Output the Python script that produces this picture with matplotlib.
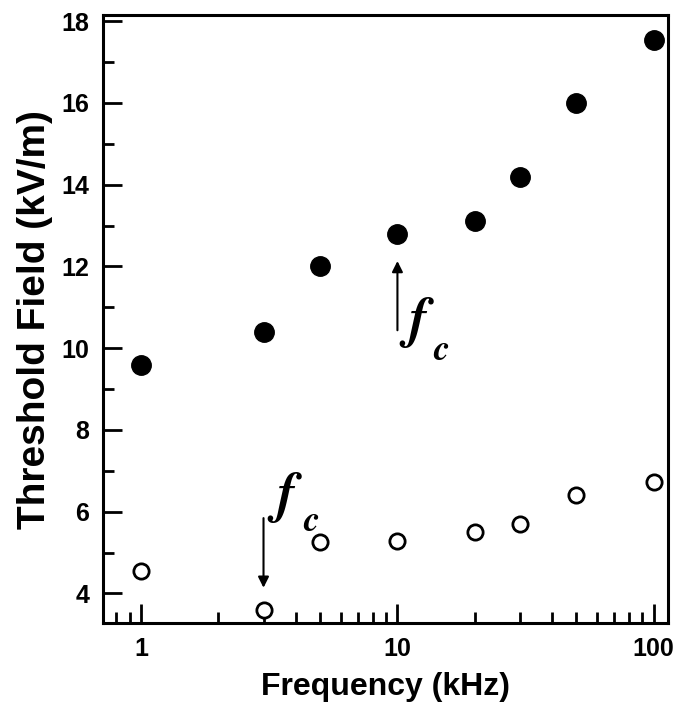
import numpy as np
import matplotlib.pyplot as plt
from matplotlib.ticker import FixedLocator, NullFormatter

# frequency (kHz) and threshold fields (kV/m)
freq = [1, 3, 5, 10, 20, 30, 50, 100]
field_filled = [9.6, 10.4, 12.0, 12.8, 13.1, 14.2, 16.0, 17.55]
field_open = [4.55, 3.6, 5.25, 5.27, 5.5, 5.7, 6.4, 6.72]

x_ticks = [1, 10, 100]
x_ticklabels = ['1', '10', '100']
y_ticks = [4, 6, 8, 10, 12, 14, 16, 18]

plt.rcParams['font.family'] = ['Liberation Sans', 'DejaVu Sans']
plt.rcParams['font.weight'] = 'bold'

fig = plt.figure(figsize=(6.79, 7.18), dpi=100)
ax = fig.add_axes([0.152, 0.132, 0.832, 0.847])

ax.plot(freq, field_filled, 'o', color='k', ms=14, zorder=3)
ax.plot(freq, field_open, 'o', mfc='white', mec='k', mew=2, ms=11, zorder=3)

ax.set_xscale('log')
ax.set_xlim(0.71, 114)
ax.set_ylim(3.27, 18.15)

ax.xaxis.set_major_locator(FixedLocator(x_ticks))
ax.set_xticklabels(x_ticklabels)
ax.xaxis.set_minor_locator(FixedLocator([0.8, 0.9] + [m * d for d in (1, 10) for m in range(2, 10)]))
ax.xaxis.set_minor_formatter(NullFormatter())
ax.set_yticks(y_ticks)
ax.set_yticks(np.arange(5, 18, 2), minor=True)

ax.tick_params(which='both', direction='in', width=2, labelsize=18, top=False, right=False)
ax.tick_params(which='major', length=14, pad=10)
ax.tick_params(which='minor', length=8)
for s in ax.spines.values():
    s.set_linewidth(2.2)

ax.set_xlabel('Frequency (kHz)', fontsize=23, fontweight='bold', labelpad=8)
ax.set_ylabel('Threshold Field (kV/m)', fontsize=28, fontweight='bold', labelpad=6)

# f_c annotations
arrow = dict(arrowstyle='-|>', color='k', lw=1.5, mutation_scale=16)
ax.annotate('', xy=(10, 12.2), xytext=(10, 10.37), arrowprops=arrow)
ax.text(11.97, 10.63, r'$f$', fontsize=40, math_fontfamily='stix', ha='center', va='center')
ax.text(14.8, 9.95, r'$c$', fontsize=26, math_fontfamily='stix', ha='center', va='center')

ax.annotate('', xy=(3, 4.07), xytext=(3, 5.91), arrowprops=arrow)
ax.text(3.65, 6.35, r'$f$', fontsize=40, math_fontfamily='stix', ha='center', va='center')
ax.text(4.6, 5.76, r'$c$', fontsize=26, math_fontfamily='stix', ha='center', va='center')

fig.savefig('out.png', dpi=100)
